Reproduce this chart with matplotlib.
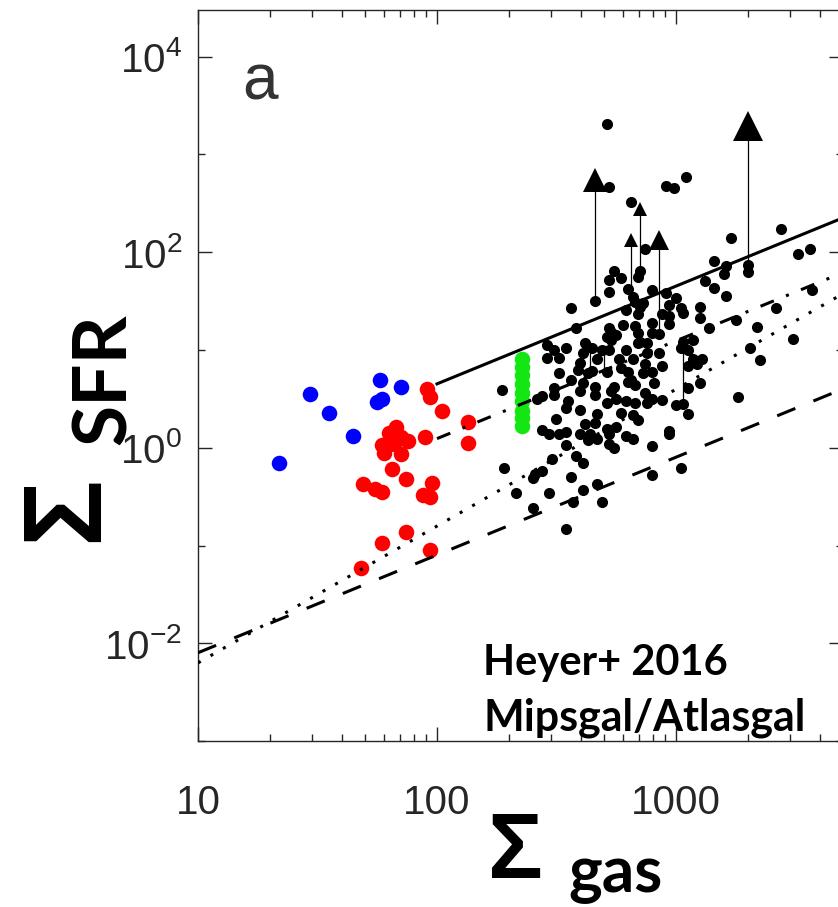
import numpy as np
import matplotlib
matplotlib.use('Agg')
import matplotlib.pyplot as plt
from matplotlib import ticker

# log10 surface densities: Msun/pc^2 for gas, Msun/yr/kpc^2 for SFR

# Heyer+ 2016 clumps (Mipsgal/Atlasgal)
black_lgas = [2.72, 2.81, 2.96, 2.99, 3.04, 2.71, 3.30, 3.30, 3.23, 3.44,
              3.51, 3.56, 2.87, 3.16, 3.21, 3.20, 3.12, 3.16, 3.21, 2.74,
              2.72, 2.77, 2.85, 2.84, 2.72, 2.80, 2.90, 2.66, 2.56, 2.82,
              2.83, 2.86, 2.96, 3.00, 2.97, 2.79, 2.84, 2.85, 3.02, 3.03,
              2.94, 2.97, 2.97, 2.90, 3.10, 3.10, 3.14, 3.25, 3.34, 3.42,
              3.57, 2.58, 2.78, 2.83, 2.72, 2.73, 2.71, 2.75, 2.84, 2.85,
              2.90, 2.93, 2.46, 2.49, 2.54, 2.46, 2.51, 2.62, 2.61, 2.65,
              2.69, 2.73, 2.72, 2.79, 2.84, 2.88, 2.88, 2.93, 2.67, 2.60,
              2.76, 2.82, 2.87, 3.03, 3.07, 3.02, 3.05, 3.07, 3.11, 3.09,
              3.05, 3.31, 3.35, 3.49, 2.51, 2.56, 2.59, 2.63, 2.65, 2.71,
              2.77, 2.80, 2.81, 2.86, 2.90, 2.94, 2.91, 2.83, 2.74, 2.66,
              2.61, 2.27, 2.49, 3.10, 3.05, 2.44, 2.42, 2.49, 2.60, 2.66,
              2.73, 2.75, 2.71, 2.80, 2.87, 2.79, 2.83, 2.88, 2.94, 2.90,
              3.00, 3.03, 3.05, 3.26, 2.55, 2.54, 2.60, 2.50, 2.67, 2.77,
              2.82, 2.84, 2.44, 2.47, 2.51, 2.54, 2.60, 2.62, 2.66, 2.64,
              2.63, 2.67, 2.71, 2.75, 2.72, 2.79, 2.82, 2.72, 2.74, 2.97,
              2.97, 2.54, 2.90, 2.58, 2.61, 2.48, 2.28, 2.44, 2.41, 2.40,
              2.56, 2.90, 3.02, 2.33, 2.47, 2.61, 2.67, 2.57, 2.69, 2.40,
              2.54]
black_lsfr = [2.67, 2.51, 2.68, 2.66, 2.77, 3.31, 1.87, 1.80, 2.15, 2.24,
              1.98, 2.03, 2.03, 1.91, 1.86, 1.78, 1.71, 1.63, 1.55, 1.81,
              1.72, 1.74, 1.81, 1.75, 1.59, 1.62, 1.61, 1.50, 1.43, 1.54,
              1.49, 1.48, 1.58, 1.53, 1.46, 1.41, 1.37, 1.44, 1.43, 1.38,
              1.37, 1.35, 1.27, 1.28, 1.44, 1.33, 1.23, 1.31, 1.24, 1.43,
              1.61, 1.22, 1.26, 1.25, 1.23, 1.18, 1.13, 1.15, 1.17, 1.08,
              1.17, 1.16, 1.05, 1.00, 1.02, 0.92, 0.92, 1.07, 0.97, 1.02,
              1.00, 1.10, 1.00, 1.00, 1.07, 1.07, 0.97, 0.97, 0.91, 0.87,
              0.91, 0.91, 0.86, 1.08, 1.10, 1.02, 1.00, 0.91, 0.91, 0.86,
              0.84, 1.02, 0.90, 1.11, 0.76, 0.69, 0.80, 0.76, 0.79, 0.77,
              0.82, 0.77, 0.69, 0.76, 0.77, 0.84, 0.66, 0.64, 0.62, 0.62,
              0.66, 0.59, 0.61, 0.66, 0.61, 0.53, 0.50, 0.54, 0.58, 0.54,
              0.58, 0.50, 0.46, 0.67, 0.56, 0.48, 0.46, 0.46, 0.49, 0.50,
              0.44, 0.45, 0.35, 0.52, 0.48, 0.41, 0.39, 0.29, 0.35, 0.36,
              0.33, 0.28, 0.18, 0.14, 0.14, 0.16, 0.14, 0.24, 0.25, 0.14,
              0.08, 0.09, 0.19, 0.21, 0.14, 0.12, 0.09, 0.04, 0.00, 0.17,
              0.14, 0.03, 0.02, -0.08, -0.16, -0.12, -0.21, -0.24, -0.27, -0.31,
              -0.30, -0.28, -0.21, -0.46, -0.46, -0.43, -0.37, -0.55, -0.56, -0.62,
              -0.83]

# lower limits (arrow from measured value up to the triangle)
lim_lgas = [2.66, 3.30, 2.85, 2.81, 2.93]
lim_lo = [1.50, 1.87, 1.81, 1.61, 1.15]
lim_hi = [2.74, 3.29, 2.44, 2.13, 2.12]
lim_ms = [17, 21.5, 10, 10, 14.5]

# plain vertical ranges inside the cloud
rng_lgas = [2.64, 2.70, 3.03]
rng_lo = [0.77, 0.77, 0.41]
rng_hi = [1.08, 1.03, 1.05]

blue_lgas = [1.34, 1.47, 1.55, 1.65, 1.76, 1.77, 1.75, 1.85]
blue_lsfr = [-0.16, 0.55, 0.36, 0.12, 0.69, 0.50, 0.47, 0.62]

red_lgas = [1.96, 1.97, 2.02, 2.13, 2.13, 1.95, 1.83, 1.81, 1.88, 1.77,
            1.78, 1.85, 1.82, 1.81, 1.87, 1.69, 1.74, 1.77, 1.98, 1.94,
            1.97, 1.87, 1.77, 1.97, 1.68, 1.80, 1.85]
red_lsfr = [0.60, 0.52, 0.38, 0.26, 0.05, 0.11, 0.21, 0.10, 0.07, 0.03,
            -0.05, -0.06, 0.04, -0.22, -0.32, -0.37, -0.42, -0.45, -0.36, -0.48,
            -0.50, -0.86, -0.97, -1.05, -1.23, 0.15, 0.11]

green_lgas = [2.356] * 9
green_lsfr = [0.91, 0.83, 0.74, 0.65, 0.56, 0.48, 0.38, 0.30, 0.22]

# relations: end points (gas, sfr)
solid_gas, solid_sfr = [100, 5000], [4.5, 225]
dashdot_gas, dashdot_sfr = [100, 5000], [1.24, 62]
dotted_gas, dotted_sfr = [10, 5000], [0.0063, 37.7]
dashed_gas, dashed_sfr = [10, 5000], [0.008, 4.0]

plt.rcParams['font.family'] = ['Liberation Sans', 'DejaVu Sans']
plt.rcParams['mathtext.default'] = 'regular'
plt.rcParams['axes.unicode_minus'] = False

fig = plt.figure(figsize=(8.38, 9.07), dpi=100)
ax = fig.add_axes([0.2363, 0.1830, 0.7697, 0.8059])
ax.set_xscale('log')
ax.set_yscale('log')

p = lambda v: 10 ** np.asarray(v, dtype=float)

ax.plot(p(black_lgas), p(black_lsfr), 'o', color='k', ms=8, mew=0, zorder=3)
ax.plot(p(blue_lgas), p(blue_lsfr), 'o', color='#0000ff', ms=11.2, mew=0, zorder=3)
ax.plot(p(red_lgas), p(red_lsfr), 'o', color='#ff0000', ms=11.2, mew=0, zorder=3)
ax.plot(p(green_lgas), p(green_lsfr), 'o', color='#14e614', ms=11.2, mew=0, zorder=3)

for xg, lo, hi, ms in zip(lim_lgas, lim_lo, lim_hi, lim_ms):
    ax.plot(p([xg, xg]), p([lo, hi]), color='k', lw=0.9, zorder=3)
    ax.plot(p(xg), p(hi), '^', color='k', ms=ms, mew=0, zorder=4)
for xg, lo, hi in zip(rng_lgas, rng_lo, rng_hi):
    ax.plot(p([xg, xg]), p([lo, hi]), color='k', lw=0.9, zorder=3)

ax.plot(solid_gas, solid_sfr, '-', color='k', lw=2.2, zorder=5)
ax.plot(dashdot_gas, dashdot_sfr, color='k', lw=2.2, ls=(0, (4.7, 4.3, 1, 4.3)), zorder=5)
ax.plot(dotted_gas, dotted_sfr, color='k', lw=2.2, ls=(0, (1, 3.7)), zorder=5)
ax.plot(dashed_gas, dashed_sfr, color='k', lw=2.2, ls=(0, (6.4, 6.4)), zorder=5)

ax.set_xlim(10, 5000)
ax.set_ylim(1e-3, 3e4)

ax.xaxis.set_major_locator(ticker.FixedLocator([10, 100, 1000]))
ax.xaxis.set_minor_locator(ticker.LogLocator(base=10, subs=np.arange(2, 10), numticks=20))
ax.xaxis.set_major_formatter(ticker.FormatStrFormatter('%d'))
ax.xaxis.set_minor_formatter(ticker.NullFormatter())
ax.yaxis.set_major_locator(ticker.FixedLocator([1e-2, 1, 1e2, 1e4]))
ax.yaxis.set_minor_locator(ticker.FixedLocator([1e-3, 1e-1, 10, 1e3]))
ax.yaxis.set_major_formatter(ticker.LogFormatterSciNotation())
ax.yaxis.set_minor_formatter(ticker.NullFormatter())

tc = '#262626'
ax.tick_params(which='both', direction='in', top=True, right=True, colors=tc, width=1)
ax.tick_params(which='major', length=10, labelsize=29)
ax.tick_params(which='minor', length=5)
ax.tick_params(axis='x', which='major', pad=31)
ax.tick_params(axis='y', which='major', pad=11.5)
for s in ax.spines.values():
    s.set_color(tc)
    s.set_linewidth(1)

ax.text(0.068, 0.877, 'a', transform=ax.transAxes, fontsize=46, color='#333333',
        ha='left', va='baseline')
ax.text(0.442, 0.090, 'Heyer+ 2016', transform=ax.transAxes, fontsize=30,
        family='Lato', weight='bold', ha='left', va='baseline')
ax.text(0.442, 0.015, 'Mipsgal/Atlasgal', transform=ax.transAxes, fontsize=31,
        family='Lato', weight='bold', ha='left', va='baseline')

# axis labels: big sigma plus subscript
fig.text(0.1158, 0.4024, 'Σ', fontsize=80, weight='bold', rotation=90,
         rotation_mode='anchor', ha='left', va='baseline')
fig.text(0.1504, 0.5094, 'SFR', fontsize=54, family='Lato', weight='bold', rotation=90,
         rotation_mode='anchor', ha='left', va='baseline')
fig.text(0.5823, 0.0320, 'Σ', fontsize=66, weight='bold', ha='left', va='baseline')
fig.text(0.6778, 0.0165, 'gas', fontsize=46, family='Lato', weight='bold',
         ha='left', va='baseline')

fig.savefig('out.png', dpi=100)
